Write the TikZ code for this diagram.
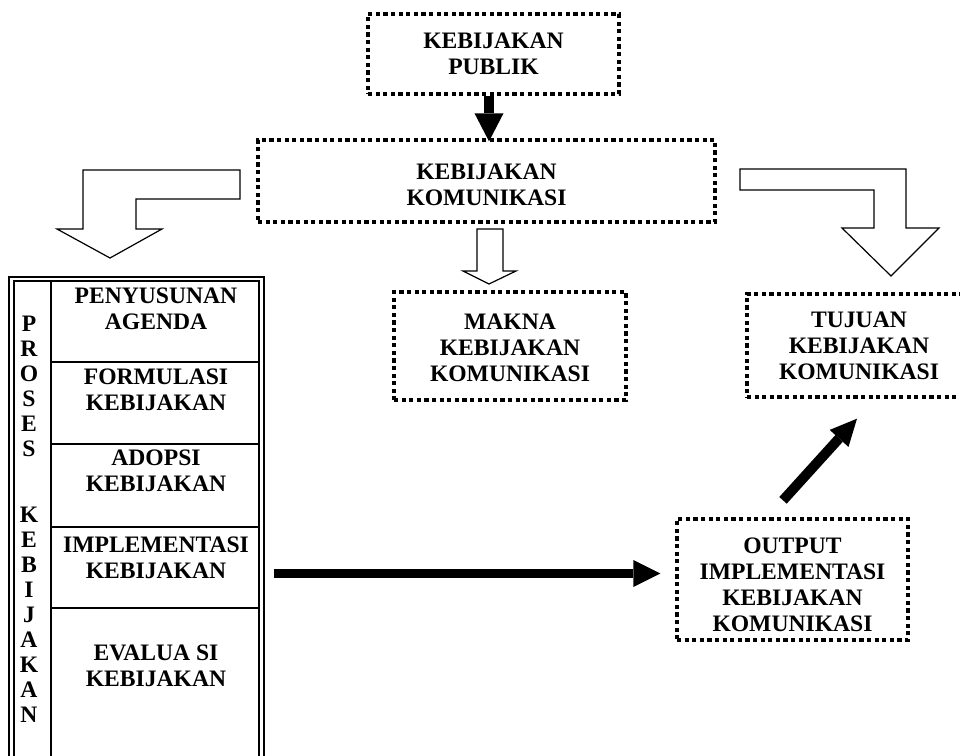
\documentclass[tikz,border=0pt]{standalone}
\usepackage{fontspec}
\setmainfont{Liberation Serif}
\usetikzlibrary{arrows.meta,fit,calc}
\begin{document}
\begin{tikzpicture}[x=0.75pt,y=0.75pt,
  font=\fontsize{17.7}{19.6}\selectfont\bfseries,
  dotbox/.style={draw, line width=2.5pt, dash pattern=on 3.2pt off 2.5pt, inner sep=0pt},
  cell/.style={align=center, inner sep=0pt},
  frame/.style={draw, line width=1.4pt, double, double distance=2pt, inner sep=0pt},
  divider/.style={line width=1.5pt},
  heavy/.style n args={3}{line width=#1, -{Triangle[width=#2,length=#3,line width=0pt]}},
  hollow/.style={draw, line width=0.9pt, fill=white, line join=miter}]
\useasboundingbox (0,0) rectangle (960,-756);
\fill[white] (0,0) rectangle (960,-756);
\clip (0,0) rectangle (960,-756);

% boxes
\node[dotbox, minimum width=188.25pt, minimum height=60pt] (pub) at (493.5,-54) {};
\node[cell] (pubt) at (493.5,-54) {KEBIJAKAN\\PUBLIK};
\node[dotbox, minimum width=342.75pt, minimum height=61.5pt] (kom) at (486.5,-181) {};
\node[cell] (komt) at (486.5,-185) {KEBIJAKAN\\KOMUNIKASI};
\node[dotbox, minimum width=174pt, minimum height=81pt] (makna) at (510,-346) {};
\node[cell] (maknat) at (510,-348) {MAKNA\\KEBIJAKAN\\KOMUNIKASI};
\node[dotbox, minimum width=168pt, minimum height=77.25pt] (tuj) at (859,-345.5) {};
\node[cell] (tujt) at (859,-345.5) {TUJUAN\\KEBIJAKAN\\KOMUNIKASI};
\node[dotbox, minimum width=173.25pt, minimum height=90.75pt] (out) at (792.5,-579.5) {};
\node[cell] (outt) at (792.5,-584.5) {OUTPUT\\IMPLEMENTASI\\KEBIJAKAN\\KOMUNIKASI};

% process frame
\node[frame, fit={(11.4,-279) (261.3,-790)}] (proc) {};
\draw[divider] (51,-281.5) -- (51,-790);
\draw[divider] (51,-362) -- (259.5,-362);
\draw[divider] (51,-444) -- (259.5,-444);
\draw[divider] (51,-527) -- (259.5,-527);
\draw[divider] (51,-608) -- (259.5,-608);

\node[cell] (agenda) at (156,-309) {PENYUSUNAN\\AGENDA};
\node[cell] (formulasi) at (156,-390) {FORMULASI\\KEBIJAKAN};
\node[cell] (adopsi) at (156,-470.5) {ADOPSI\\KEBIJAKAN};
\node[cell] (impl) at (156,-558) {IMPLEMENTASI\\KEBIJAKAN};
\node[cell] (eval) at (156,-665.5) {EVALUA SI\\KEBIJAKAN};
\node[cell, font=\fontsize{17.7}{18.75}\selectfont\bfseries] (proses) at (29,-519.5)
  {P\\R\\O\\S\\E\\S\\[30.75pt]K\\E\\B\\I\\J\\A\\K\\A\\N};

% heavy arrows
\draw[heavy={7.5pt}{21.75pt}{21pt}] ($(pub.south)+(-4.5,0)$) -- ($(kom.north)+(2.5,-3)$);
\coordinate (hy) at (0,-573.5);
\draw[heavy={6.75pt}{20.25pt}{20.25pt}] ($(proc.east |- hy)+(11.7,0)$) -- ($(out.west |- hy)+(-15,0)$);
\draw[heavy={7.5pt}{19pt}{20pt}] ($(out.north)+(-9.5,17)$) -- ($(tuj.south)+(-2,-20)$);

% hollow arrows
\draw[hollow] (240,-170) -- (83,-170) -- (83,-229) -- (57,-229) -- (110,-258) -- (162,-229) -- (136,-229) -- (136,-199) -- (240,-199) -- cycle;
\draw[hollow] (740,-169) -- (906,-169) -- (906,-228) -- (939,-228) -- (891,-276) -- (842,-228) -- (874,-228) -- (874,-190) -- (740,-190) -- cycle;
\draw[hollow] (477,-229) -- (503,-229) -- (503,-271) -- (516,-271) -- (489,-284) -- (463,-271) -- (477,-271) -- cycle;
\end{tikzpicture}
\end{document}
